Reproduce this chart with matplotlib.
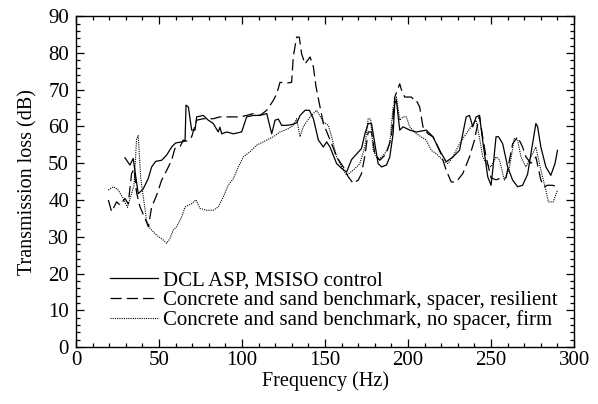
import matplotlib
matplotlib.use("Agg")
import matplotlib.pyplot as plt
from matplotlib.ticker import MultipleLocator

plt.rcParams['font.family'] = ['Liberation Serif', 'DejaVu Serif']

# DCL ASP, MSISO control
dcl_freq = [29.5, 32.5, 34.5, 35.5, 37.5, 40.5, 43.5, 45.6, 48, 51.6, 54.6, 57.6, 60, 63.7, 65.7,
            66.3, 67.7, 69.7, 71.7, 72.7, 76.7, 79.7, 82.7, 85.7, 86.7, 87.8, 90.8, 94.8, 99.8,
            102.8, 106.8, 110.8, 114.9, 117.9, 119.9, 121.9, 123.9, 126.9, 130, 133, 135, 138,
            140.6, 143, 146, 149, 151, 153, 157, 160, 163, 166, 170, 172, 174, 176, 178, 180, 182,
            184, 187, 189, 191, 192, 193, 195, 197, 201, 205, 211, 215, 219, 223, 227, 231, 235,
            237, 239, 241, 243, 245, 248, 250, 251, 253, 254.5, 257, 260, 263, 266, 269, 272, 275,
            277, 278, 280, 283, 286, 288.5, 290]
dcl_tl = [51.5, 49.5, 51.3, 48, 41.7, 43, 45.8, 49, 50.5, 50.8, 52.2, 54.4, 55.5, 55.8, 56,
          65.8, 65.3, 59, 59, 62.6, 63, 61.7, 60.8, 58.5, 59.8, 58, 58.5, 58, 58.5,
          62.6, 63, 63, 63.5, 58, 61.7, 62, 60.3, 60.3, 60.5, 61, 63, 64.4,
          64.4, 62.1, 56.3, 54.4, 55.8, 54.4, 49.9, 48.6, 47.6, 51, 53, 54, 58, 60.8, 60.8, 55.3, 49.9,
          49, 49.5, 51.7, 58, 66.2, 67.1, 59, 59.9, 59, 58.5, 59, 57.2, 53.5, 50.4, 51.7, 53.5, 62.6,
          63, 59.9, 62.6, 63, 56, 46.3, 44, 48.1, 57.2, 57.2, 55.3, 49, 45.4, 43.6, 44, 47, 55.3,
          60.8, 60, 54.4, 49, 46.7, 49.9, 53.5]

# Concrete and sand benchmark, spacer, resilient
spacer_freq = [19.5, 21.5, 24.5, 26.5, 29.5, 31.5, 33.5, 35, 36.5, 38.6, 41.6, 43.6, 45.6, 48.6,
               51.6, 54.6, 57.6, 59.6, 62.6, 64.6, 67, 69.7, 72.7, 76.7, 82.7, 86.7, 92.8, 98.8,
               102.8, 106.8, 110.8, 114.9, 118.9, 120.9, 122.9, 126.9, 129.9, 130.9, 132.9, 134.5,
               135.9, 137.9, 141, 143, 144.6, 147, 149, 154, 157, 161, 164, 167, 170, 172, 174, 176,
               178, 180, 183, 187, 190, 192, 195, 196, 198, 202, 204, 205, 207, 209, 212, 215, 219,
               223, 226, 229, 233, 237, 240, 243, 245, 247, 250, 253, 255, 259, 263, 266, 269, 271,
               274, 277, 280, 282, 284, 287, 290]
spacer_tl = [40, 36.8, 39.5, 38.6, 40.4, 39, 47.2, 48.5, 42, 38.1, 35, 32.7, 38.1, 41.3,
             45.4, 48, 50.8, 54, 54.4, 56.3, 56, 57.2, 61.7, 62.1, 62.1, 62.6, 62.6, 62.6,
             63, 63.5, 63, 64.4, 67.1, 68.9, 72, 71.8, 72, 79, 84.3, 84.3,
             79.8, 77, 78.9, 76.2, 70.8, 65.3, 60.8, 55.3, 51.7, 49, 46.3, 44.5, 45.4, 47.2, 52, 58.5,
             58.5, 52.6, 50.8, 52.6, 57.2, 68, 71.6, 70, 68, 68, 67, 67.1, 65.3, 59.9, 58, 57.2, 53.5,
             48.1, 44.9, 44.9, 47.2, 51.7, 56.3, 63, 57, 51.7, 46, 45.5, 45.8, 46, 55.3, 57.2, 54.4, 51.7,
             50, 51.7, 45.4, 43.6, 44, 44, 43.6]

# Concrete and sand benchmark, no spacer, firm
firm_freq = [19.5, 22.5, 25.5, 28.5, 31, 33, 35, 36.5, 37.5, 39, 42.5, 44.6, 48.6, 52.6, 54.6,
             56.6, 58.6, 60.6, 63.7, 65.7, 69.7, 72.3, 74.7, 78.7, 82.7, 85.7, 88.7, 91.7, 94.8,
             97.8, 100.8, 104.8, 108.8, 112.8, 118.9, 122.9, 127.9, 130.9, 132.9, 134.9, 137, 141,
             145, 149, 152, 154, 157, 160, 163, 167, 171, 174, 176, 177.5, 179, 182, 186, 189, 191,
             193, 195, 197, 199, 201, 205, 211, 214, 217, 221, 224, 227, 231, 235, 238, 241, 243,
             245, 247, 250, 253, 255, 258, 261, 264, 266, 268, 271, 274, 277, 280, 283, 284.5,
             287.5, 290]
firm_tl = [42.7, 43.6, 42.7, 40.4, 38, 41, 44, 56.5, 57.5, 46, 34.5, 32.3, 30.4, 29.1, 28.2,
           29.5, 31.8, 32.7, 35.4, 38.1, 39, 40, 37.7, 37.2, 37.2, 38.1, 40.8, 44, 45.8,
           49, 51.7, 53.1, 54.9, 55.8, 57.2, 58.5, 59.4, 60.3, 62.1, 57.2, 60, 62.6,
           64.4, 61.2, 60.3, 57.2, 51.7, 49, 46.7, 48.1, 49.9, 54.4, 62.1, 62, 53.5, 50.8, 52.6, 55.3, 65.3,
           68, 61.7, 62.6, 62.6, 59.9, 58, 56.3, 53.5, 52.6, 50.8, 49.9, 51.7, 55.3, 58, 60, 61.7, 57,
           51.7, 49.9, 49, 51.7, 51, 45.4, 48.6, 56.7, 56.3, 51.7, 49, 51.7, 54.4, 48.1, 42.7, 39.5,
           39.5, 42.7]

labels = ["DCL ASP, MSISO control",
          "Concrete and sand benchmark, spacer, resilient",
          "Concrete and sand benchmark, no spacer, firm"]

fig = plt.figure(figsize=(5.98, 4.04), dpi=100)
ax = fig.add_axes([0.127, 0.141, 0.833, 0.819])

ax.plot(dcl_freq, dcl_tl, color='black', lw=0.9, ls='-', label=labels[0])
ax.plot(spacer_freq, spacer_tl, color='black', lw=0.9, ls=(0, (9, 4)), label=labels[1])
ax.plot(firm_freq, firm_tl, color='black', lw=0.8, ls=(0, (1, 1)), label=labels[2])

ax.set_xlim(0, 300)
ax.set_ylim(0, 90)
ax.xaxis.set_major_locator(MultipleLocator(50))
ax.xaxis.set_minor_locator(MultipleLocator(10))
ax.yaxis.set_major_locator(MultipleLocator(10))
ax.yaxis.set_minor_locator(MultipleLocator(2))
ax.tick_params(which='both', direction='in', top=True, right=True, labelsize=15, width=0.9)
ax.tick_params(which='major', length=6, pad=3)
ax.tick_params(axis='y', which='major', pad=5)
ax.tick_params(which='minor', length=3)
for s in ax.spines.values():
    s.set_linewidth(1.0)

ax.set_xlabel("Frequency (Hz)", fontsize=14.5, labelpad=1)
ax.set_ylabel("Transmission loss (dB)", fontsize=14.5, labelpad=8)

ax.legend(loc='lower left', bbox_to_anchor=(0.068, 0.05), frameon=False, fontsize=15,
          handlelength=2.3, handletextpad=0.25, labelspacing=0.02, borderaxespad=0,
          borderpad=0)

fig.savefig("out.png", dpi=100)
